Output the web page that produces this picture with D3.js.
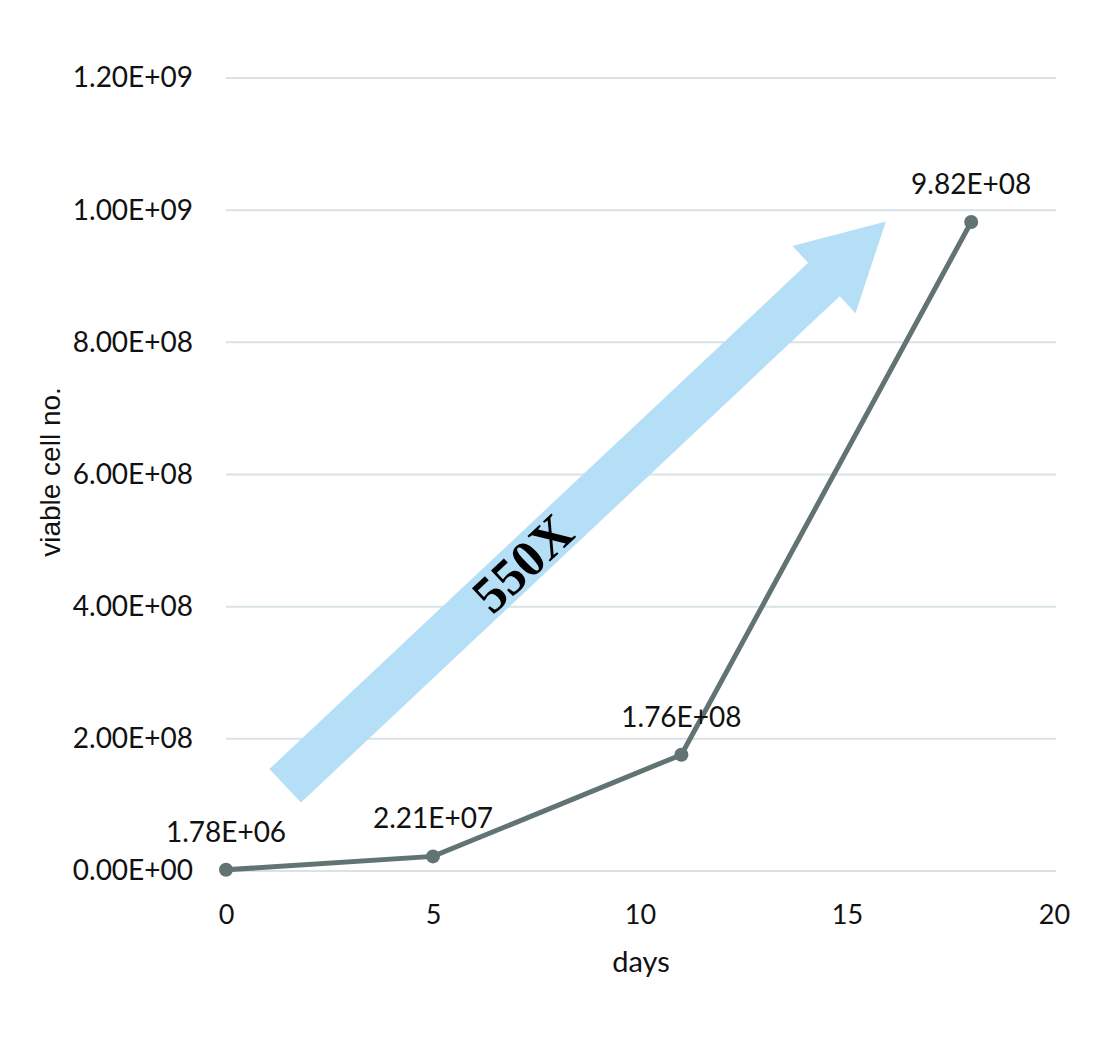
<!DOCTYPE html>
<html><head><meta charset="utf-8">
<script src="https://cdn.jsdelivr.net/npm/d3@7"></script>
<style>body{margin:0;background:#fff}</style>
</head><body>
<script>
const days = [0, 5, 11, 18];
const cells = [1.78e6, 2.21e7, 1.76e8, 9.82e8];
const pointLabels = ["1.78E+06", "2.21E+07", "1.76E+08", "9.82E+08"];
const yTicks = [0, 2e8, 4e8, 6e8, 8e8, 1e9, 1.2e9];
const yTickLabels = ["0.00E+00","2.00E+08","4.00E+08","6.00E+08","8.00E+08","1.00E+09","1.20E+09"];
const xTicks = [0, 5, 10, 15, 20];
const arrowTail = [1.43, 1.29e8];
const arrowTip = [15.94, 9.83e8];
const arrowText = "550X";

const W = 1100, H = 1064;
const svg = d3.select("body").append("svg").attr("width", W).attr("height", H);
const x = d3.scaleLinear().domain([0, 20]).range([226, 1054]);
const y = d3.scaleLinear().domain([0, 1.2e9]).range([871, 78]);
const font = "Lato, 'Open Sans', sans-serif";

// gridlines
svg.append("g").selectAll("line").data(yTicks).join("line")
  .attr("x1", 226).attr("x2", 1056)
  .attr("y1", d => y(d)).attr("y2", d => y(d))
  .attr("stroke", "#d9e2e5").attr("stroke-width", 2);

// y axis labels
const yAxis = d3.axisLeft(y).tickValues(yTicks).tickSize(0).tickPadding(0)
  .tickFormat((d, i) => yTickLabels[i]);
const gy = svg.append("g").attr("transform", "translate(193,0)").call(yAxis);
gy.select(".domain").remove();
gy.selectAll("text").attr("font-family", font).attr("font-size", 28).attr("fill", "#111");

// x axis labels
const xAxis = d3.axisBottom(x).tickValues(xTicks).tickSize(0).tickPadding(0);
const gx = svg.append("g").attr("transform", "translate(0,905)").call(xAxis);
gx.select(".domain").remove();
gx.selectAll("text").attr("font-family", font).attr("font-size", 27).attr("fill", "#111");

// axis titles
svg.append("text").attr("x", 641).attr("y", 972).attr("text-anchor", "middle")
  .attr("font-family", font).attr("font-size", 29).attr("fill", "#111").text("days");
svg.append("text").attr("transform", "translate(60,472) rotate(-90)").attr("text-anchor", "middle")
  .attr("font-family", "'Liberation Sans', Arial, sans-serif").attr("font-size", 28).attr("fill", "#111").text("viable cell no.");

// arrow
const tx = x(arrowTail[0]), ty = y(arrowTail[1]);
const hx = x(arrowTip[0]), hy = y(arrowTip[1]);
const ang = Math.atan2(hy - ty, hx - tx);
const len = Math.hypot(hx - tx, hy - ty);
const shaftW = 46, headW = 92, headL = 85;
const g = svg.append("g").attr("transform", `translate(${tx},${ty}) rotate(${ang * 180 / Math.PI})`);
g.append("path").attr("fill", "#b5def7").attr("d",
  d3.line()([[0, -shaftW/2], [len - headL, -shaftW/2], [len - headL, -headW/2], [len, 0],
    [len - headL, headW/2], [len - headL, shaftW/2], [0, shaftW/2]]) + "Z");
g.append("text").attr("x", (len - headL) * 0.44).attr("y", 18).attr("text-anchor", "middle")
  .attr("font-family", "'Liberation Serif', 'Times New Roman', serif").attr("font-weight", "bold")
  .attr("font-size", 52).attr("fill", "#000").text(arrowText);

// line
const pts = days.map((d, i) => [x(d), y(cells[i])]);
svg.append("path").attr("d", d3.line()(pts)).attr("fill", "none")
  .attr("stroke", "#627373").attr("stroke-width", 5);
svg.append("g").selectAll("circle").data(pts).join("circle")
  .attr("cx", d => d[0]).attr("cy", d => d[1]).attr("r", 7).attr("fill", "#627373");
svg.append("g").selectAll("text").data(pts).join("text")
  .attr("x", d => d[0]).attr("y", d => d[1] - 28).attr("text-anchor", "middle")
  .attr("font-family", font).attr("font-size", 28).attr("fill", "#111")
  .text((d, i) => pointLabels[i]);
</script>
</body></html>
